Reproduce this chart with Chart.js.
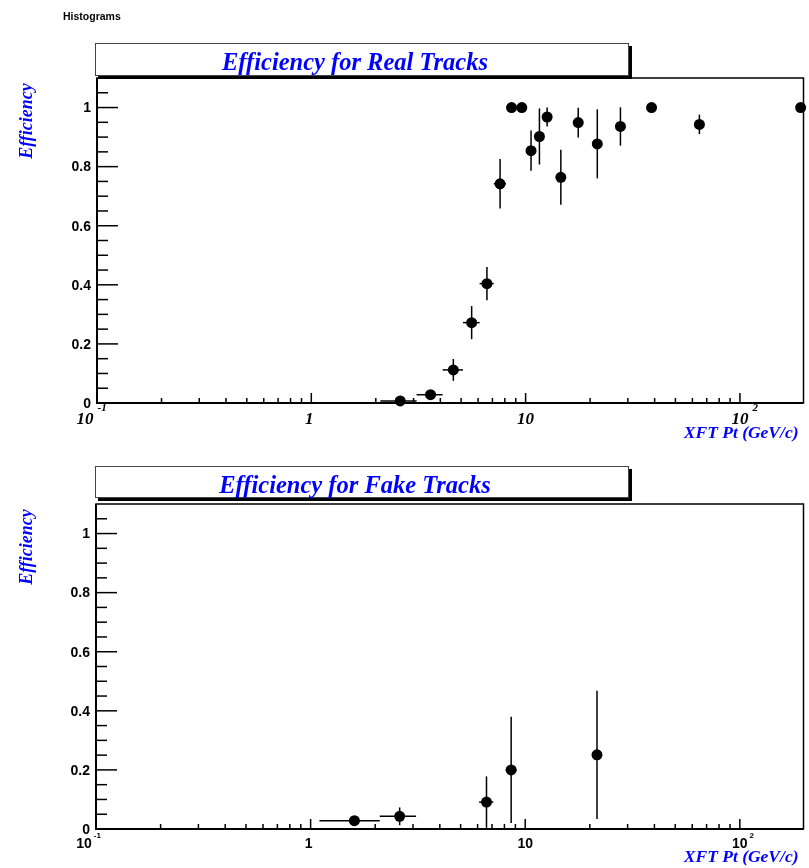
<!DOCTYPE html>
<html>
<head>
<meta charset="utf-8">
<script src="https://cdn.jsdelivr.net/npm/chart.js@4/dist/chart.umd.min.js"></script>
<style>
  body { margin: 0; background: #fff; }
  #wrap { position: relative; width: 809px; height: 868px; }
  canvas { position: absolute; left: 0; }
  #realChart { top: 0; }
  #fakeChart { top: 450px; }
</style>
</head>
<body>
<div id="wrap">
  <canvas id="realChart" width="809" height="450"></canvas>
  <canvas id="fakeChart" width="809" height="418"></canvas>
</div>
<script>
// data -------------------------------------------
const realPt = [2.6, 3.6, 4.6, 5.6, 6.6, 7.6, 8.6, 9.6, 10.6, 11.6, 12.6, 14.6, 17.6, 21.6, 27.7, 38.7, 64.7, 192];
const realEff = [0.007, 0.028, 0.112, 0.272, 0.404, 0.742, 1.0, 1.0, 0.854, 0.902, 0.968, 0.764, 0.949, 0.877, 0.936, 1.0, 0.943, 1.0];
const realEffErr = [0.005, 0.01, 0.037, 0.056, 0.056, 0.084, 0, 0, 0.068, 0.095, 0.032, 0.093, 0.05, 0.117, 0.065, 0, 0.033, 0];
const realPtErr = [0.5, 0.5, 0.5, 0.5, 0.5, 0.5, 0.5, 0.5, 0.5, 0.5, 0.5, 0.5, 0.5, 0.5, 0.5, 0.5, 0.5, 0.5];

const fakePt = [1.6, 2.6, 6.6, 8.6, 21.6];
const fakeEff = [0.028, 0.043, 0.091, 0.2, 0.251];
const fakeEffErr = [0, 0.03, 0.087, 0.18, 0.217];
const fakePtErr = [0.5, 0.5, 0.5, 0.5, 0.5];

// axis ticks
const yTickValues = [0, 0.2, 0.4, 0.6, 0.8, 1];
const yTickLabels = ['0', '0.2', '0.4', '0.6', '0.8', '1'];
const xTickValues = [0.1, 1, 10, 100];
const xTickBase = ['10', '1', '10', '10'];
const xTickExp = ['-1', '', '', '2'];

const BLUE = '#0000ff';
const SERIF = '"Liberation Serif", "Times New Roman", serif';
const SANS = '"Liberation Sans", Arial, Helvetica, sans-serif';

function line(ctx, x1, y1, x2, y2) {
  ctx.beginPath();
  ctx.moveTo(x1, y1);
  ctx.lineTo(x2, y2);
  ctx.stroke();
}

// error bars, drawn under the markers
const errorBars = {
  id: 'errorBars',
  beforeDatasetsDraw(chart) {
    const ctx = chart.ctx;
    const x = chart.scales.x, y = chart.scales.y;
    ctx.save();
    ctx.strokeStyle = '#000';
    ctx.lineWidth = 1.5;
    chart.data.datasets[0].data.forEach(p => {
      const px = x.getPixelForValue(p.x);
      const py = y.getPixelForValue(p.y);
      if (p.yErr > 0) {
        const lo = Math.max(0, p.y - p.yErr);
        line(ctx, px, y.getPixelForValue(lo), px, y.getPixelForValue(p.y + p.yErr));
      }
      if (p.xErr > 0) {
        line(ctx, x.getPixelForValue(p.x - p.xErr), py, x.getPixelForValue(p.x + p.xErr), py);
      }
    });
    ctx.restore();
  }
};

// ROOT style frame, ticks, labels, titles
function rootFrame(cfg) {
  return {
    id: 'rootFrame',
    afterDraw(chart) {
      const ctx = chart.ctx;
      const a = chart.chartArea;
      const x = chart.scales.x, y = chart.scales.y;
      ctx.save();
      ctx.strokeStyle = '#000';

      // frame + axes
      ctx.lineWidth = 1.5;
      ctx.strokeRect(a.left, a.top, a.right - a.left, a.bottom - a.top);
      ctx.lineWidth = 2;
      line(ctx, a.left, a.top, a.left, a.bottom + 1);
      line(ctx, a.left - 1, a.bottom, a.right, a.bottom);

      // y ticks, every 0.05
      ctx.lineWidth = 1.5;
      for (let i = 0; i <= 21; i++) {
        const py = y.getPixelForValue(i * 0.05);
        line(ctx, a.left, py, a.left + (i % 4 === 0 ? 21 : 11), py);
      }
      // x ticks (log)
      for (let e = -1; e <= 2; e++) {
        for (let k = 1; k <= 9; k++) {
          const v = k * Math.pow(10, e);
          if (v > x.max) break;
          const px = x.getPixelForValue(v);
          line(ctx, px, a.bottom, px, a.bottom - (k === 1 ? 10 : 5));
        }
      }

      // y tick labels
      ctx.fillStyle = '#000';
      ctx.font = 'bold 14px ' + SANS;
      ctx.textAlign = 'right';
      ctx.textBaseline = 'middle';
      yTickValues.forEach((v, i) => {
        ctx.fillText(yTickLabels[i], a.left - 6, y.getPixelForValue(v) + 1);
      });

      // x tick labels
      const shifts = [-12, -2, 0, 0];
      xTickValues.forEach((v, i) => {
        const px = x.getPixelForValue(v) + shifts[i];
        ctx.font = cfg.xFont;
        ctx.textAlign = 'center';
        ctx.textBaseline = 'alphabetic';
        ctx.fillText(xTickBase[i], px, a.bottom + cfg.xLabelDy);
        if (xTickExp[i]) {
          const w = ctx.measureText(xTickBase[i]).width;
          ctx.font = cfg.expFont;
          ctx.textAlign = 'left';
          ctx.fillText(xTickExp[i], px + w / 2 + cfg.expDx, a.bottom + cfg.expDy);
        }
      });

      // axis titles
      ctx.fillStyle = BLUE;
      ctx.font = 'bold italic 17.5px ' + SERIF;
      ctx.textAlign = 'right';
      ctx.textBaseline = 'alphabetic';
      ctx.fillText('XFT Pt (GeV/c)', a.right - 5, a.bottom + cfg.xTitleDy);

      ctx.save();
      ctx.translate(32, cfg.yTitleY);
      ctx.rotate(-Math.PI / 2);
      ctx.font = 'bold italic 18px ' + SERIF;
      ctx.textAlign = 'center';
      ctx.fillText('Efficiency', 0, 0);
      ctx.restore();

      // title box with shadow
      const b = cfg.box;
      ctx.fillStyle = '#000';
      ctx.fillRect(b.x + 3, b.y + 3, b.w, b.h);
      ctx.fillStyle = '#fff';
      ctx.fillRect(b.x, b.y, b.w, b.h);
      ctx.strokeStyle = '#444';
      ctx.lineWidth = 1;
      ctx.strokeRect(b.x + 0.5, b.y + 0.5, b.w - 1, b.h - 1);
      ctx.fillStyle = BLUE;
      ctx.font = 'bold italic 24.5px ' + SERIF;
      ctx.textAlign = 'center';
      ctx.fillText(cfg.title, 355, b.y + 27);

      if (cfg.topLabel) {
        ctx.fillStyle = '#000';
        ctx.font = 'bold 10.5px ' + SANS;
        ctx.textAlign = 'left';
        ctx.fillText(cfg.topLabel, 63, 20);
      }
      ctx.restore();
    }
  };
}

function makeChart(canvasId, pts, effs, effErrs, ptErrs, padding, cfg) {
  const points = pts.map((v, i) => ({ x: v, y: effs[i], yErr: effErrs[i], xErr: ptErrs[i] }));
  return new Chart(document.getElementById(canvasId), {
    type: 'scatter',
    data: {
      datasets: [{
        data: points,
        pointRadius: 5.5,
        pointHoverRadius: 5.5,
        pointBackgroundColor: '#000',
        pointBorderWidth: 0,
        borderWidth: 0,
        clip: false,
      }],
    },
    options: {
      responsive: false,
      animation: false,
      devicePixelRatio: 1,
      layout: { padding: padding },
      plugins: { legend: { display: false }, tooltip: { enabled: false } },
      scales: {
        x: { type: 'logarithmic', min: 0.1, max: 198, display: false },
        y: { type: 'linear', min: 0, max: 1.1, display: false },
      },
    },
    plugins: [errorBars, rootFrame(cfg)],
  });
}

// top pad ----------------------------------------
makeChart('realChart', realPt, realEff, realEffErr, realPtErr,
  { left: 97, right: 1, top: 78, bottom: 47 },
  {
    title: 'Efficiency for Real Tracks',
    topLabel: 'Histograms',
    box: { x: 95, y: 43, w: 534, h: 33 },
    xFont: 'bold italic 17px ' + SERIF,
    expFont: 'bold italic 11px ' + SERIF,
    xLabelDy: 21, expDx: 4, expDy: 8,
    xTitleDy: 35,
    yTitleY: 121,
  });

// bottom pad -------------------------------------
makeChart('fakeChart', fakePt, fakeEff, fakeEffErr, fakePtErr,
  { left: 96, right: 2, top: 54, bottom: 39 },
  {
    title: 'Efficiency for Fake Tracks',
    box: { x: 95, y: 16, w: 534, h: 32 },
    xFont: 'bold 14px ' + SANS,
    expFont: 'bold 8px ' + SANS,
    xLabelDy: 19, expDx: 2, expDy: 9,
    xTitleDy: 33,
    yTitleY: 97,
  });
</script>
</body>
</html>
